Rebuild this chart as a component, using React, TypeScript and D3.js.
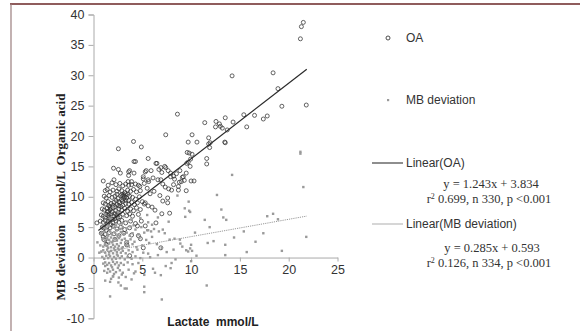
import React, { useRef, useEffect } from 'react';
import * as d3 from 'd3';

// [lactate, organic acid]
const oaPoints: [number, number][] = [
  [21.5, 38.7], [21.3, 38.0], [21.2, 36.0], [14.2, 29.9], [18.4, 30.4], [18.9, 27.8], [19.3, 24.9], [21.8, 25.1],
  [15.4, 23.5], [16.5, 23.4], [17.8, 23.3], [17.4, 22.8], [13.5, 23.0], [8.6, 23.6], [7.4, 20.2], [10.1, 20.2],
  [9.7, 19.0], [10.6, 19.0], [11.4, 22.2], [11.8, 19.7], [11.8, 18.7], [11.6, 16.3], [11.6, 15.4], [12.5, 21.5],
  [13.0, 21.6], [13.2, 21.3], [13.5, 18.9], [13.7, 21.0], [14.3, 22.3], [15.7, 21.5], [2.55, 17.9], [4.1, 19.1],
  [4.9, 18.2], [4.15, 15.8], [4.3, 15.8], [5.6, 16.3], [2.05, 14.7], [2.55, 14.5], [2.75, 13.9], [3.6, 14.1],
  [3.6, 13.5], [1.0, 12.6], [5.3, 14.1], [5.9, 14.3], [6.4, 15.5], [6.7, 14.5], [7.0, 14.0], [7.4, 14.8],
  [7.65, 14.3], [7.9, 13.9], [8.2, 13.4], [8.5, 13.8], [8.85, 14.3], [9.5, 13.9], [9.7, 15.7], [9.95, 16.2],
  [9.8, 17.2], [10.1, 17.0], [9.9, 15.0], [10.0, 12.6], [10.3, 12.6], [9.5, 11.0], [8.7, 11.1], [8.7, 11.7],
  [9.0, 12.5], [8.0, 11.1], [7.7, 11.3], [7.35, 11.6], [7.1, 12.1], [6.6, 12.8], [6.1, 13.1], [5.65, 12.5],
  [5.1, 13.3], [4.75, 11.7], [7.6, 9.8], [7.6, 9.0], [7.1, 9.3], [7.8, 7.3], [7.0, 7.2], [6.3, 7.8],
  [6.0, 8.3], [5.6, 8.5], [5.3, 9.0], [6.4, 5.7], [4.9, 6.0], [5.3, 5.2], [0.35, 5.7], [3.4, 2.1],
  [3.7, 0.3], [4.6, 3.6], [5.1, 1.6], [6.9, 1.6], [6.5, 15.5], [6.9, 14.8], [7.3, 15.0], [5.4, 14.3],
  [3.7, 14.3], [4.15, 13.9], [5.1, 12.95], [5.6, 12.8], [5.2, 12.2], [3.55, 12.5], [3.9, 12.5], [6.9, 12.8],
  [7.9, 13.3], [8.3, 12.9], [8.8, 12.4], [9.3, 12.7], [5.8, 10.5], [6.2, 10.9], [5.5, 11.4], [6.8, 10.2],
  [8.2, 12.0], [9.1, 13.2], [12.55, 22.4], [12.9, 22.0], [9.6, 17.3], [9.55, 15.5], [11.95, 18.9], [11.9, 18.1],
  [13.45, 19.0], [9.2, 13.3],
  // dense cluster
  [1.9, 12.3], [2.3, 12.0], [2.7, 12.2], [3.0, 11.8], [3.3, 12.1], [3.6, 11.9], [3.9, 12.0], [4.3, 12.1],
  [4.6, 11.9], [2.1, 12.8], [1.5, 11.9],
  [1.2, 11.0], [1.4, 11.2], [1.7, 10.8], [2.0, 11.1], [2.4, 10.9], [2.6, 11.3], [2.9, 11.0], [3.2, 10.7],
  [3.5, 11.1], [3.8, 10.9], [4.1, 11.2], [4.4, 10.8], [4.8, 11.0], [3.1, 10.3], [3.0, 10.1], [3.2, 10.0],
  [1.1, 10.1], [1.3, 9.8], [1.6, 10.2], [1.9, 9.9], [2.2, 10.1], [2.5, 9.7], [2.8, 10.2], [3.4, 9.8],
  [3.7, 10.1], [4.0, 9.9], [4.3, 9.6], [4.7, 10.0], [2.9, 9.5], [3.3, 9.4],
  [1.0, 9.0], [1.2, 8.8], [1.5, 9.2], [1.8, 8.9], [2.1, 9.1], [2.4, 8.7], [2.7, 9.0], [3.0, 8.6],
  [3.3, 8.9], [3.6, 8.8], [3.9, 9.1], [4.2, 8.7], [4.5, 9.0], [5.0, 9.2], [5.2, 8.8], [2.2, 8.4], [1.6, 8.5],
  [0.9, 8.0], [1.1, 7.8], [1.4, 8.1], [1.7, 7.9], [2.0, 8.2], [2.3, 7.7], [2.6, 8.0], [2.9, 7.8],
  [3.2, 8.1], [3.5, 7.6], [3.8, 8.0], [4.1, 7.7], [4.4, 8.2], [4.8, 7.9], [1.9, 7.5], [2.5, 7.4],
  [0.8, 7.0], [1.0, 6.8], [1.3, 7.1], [1.5, 6.9], [1.8, 7.2], [2.1, 6.8], [2.4, 7.0], [2.7, 6.7],
  [3.0, 7.1], [3.4, 6.9], [3.7, 7.2], [4.0, 6.8], [4.6, 7.1], [1.6, 6.5], [2.2, 6.4],
  [0.7, 6.0], [1.0, 5.8], [1.2, 6.1], [1.5, 5.9], [1.7, 6.2], [2.0, 5.7], [2.3, 6.0], [2.6, 5.8],
  [2.9, 6.1], [3.3, 5.7], [3.8, 6.0], [4.3, 5.6], [1.4, 5.5], [1.8, 5.4],
  [0.9, 5.0], [1.1, 4.8], [1.4, 5.1], [1.7, 4.9], [2.0, 5.2], [2.4, 4.7], [2.8, 5.0], [3.2, 4.6],
  [3.7, 4.9], [4.5, 5.2], [1.3, 4.5],
  [0.8, 4.0], [1.2, 3.8], [1.6, 4.1], [2.1, 3.9], [2.6, 3.6], [3.1, 4.0], [3.9, 3.7], [1.0, 3.4],
  [1.1, 2.9], [1.5, 2.6], [2.2, 3.0], [3.4, 2.5], [1.3, 2.2], [4.8, 3.1],
  [2.9, 10.4], [3.1, 9.7], [2.6, 9.2], [2.0, 8.6], [1.7, 8.3], [2.3, 9.4], [1.4, 7.5], [2.8, 8.4],
  [3.6, 9.4], [1.9, 6.3], [1.2, 6.6], [2.5, 6.6], [1.5, 7.6], [3.3, 10.5], [3.5, 10.4],
  [2.2, 7.2], [1.8, 8.1], [2.6, 8.5], [3.0, 9.3], [2.4, 10.4], [1.6, 7.2],
];

// [lactate, MB deviation]
const mbPoints: [number, number][] = [
  [21.2, 17.4], [21.2, 17.1], [21.5, 11.6], [14.2, 13.6], [12.65, 10.3], [13.1, 7.9], [13.3, 6.6], [13.6, 6.2],
  [11.4, 6.2], [11.9, 5.0], [9.8, 7.7], [9.4, 6.7], [10.4, 4.1], [17.8, 6.8], [18.4, 7.2], [18.9, 6.3],
  [15.4, 4.3], [17.4, 4.0], [14.4, 3.3], [21.8, 3.4], [16.6, 2.6], [12.3, 2.7], [11.7, 2.4], [13.5, 2.1],
  [19.3, 1.1], [15.7, 0.9], [13.5, 0.4], [10.55, 0.3], [10.0, 2.1], [9.9, 1.5], [10.1, 1.1], [9.7, 1.0],
  [9.5, 1.2], [9.1, 1.8], [10.0, -0.6], [11.6, -4.6], [8.85, 2.95], [9.75, 9.2], [9.35, 8.1], [9.9, 7.5],
  [8.6, 10.2], [7.1, 4.6], [8.3, 3.1], [7.8, 2.95], [7.3, 4.0], [6.7, 4.3], [6.2, 4.7], [5.9, 4.3],
  [5.5, 4.5], [6.5, 2.2], [7.0, 1.6], [7.4, -1.4], [7.9, -1.75], [6.1, -1.85], [6.3, -2.5], [6.9, -2.9],
  [5.2, -2.85], [5.2, -4.8], [5.2, -5.7], [7.0, -6.9], [1.7, -6.4], [3.4, -5.1], [2.55, -4.1], [3.9, -3.6],
  [4.15, -2.6], [5.6, 0.65], [5.8, 0.05], [1.4, -2.5], [1.2, -1.4], [2.0, -3.1], [2.9, -2.8], [0.6, 0.8],
  [0.4, 2.5], [1.0, 3.2], [8.2, 1.3], [8.9, 2.3], [6.6, 0.4], [7.5, 0.9], [8.4, -0.3], [6.0, 3.4],
  [7.7, 5.9], [6.6, 6.6], [5.6, 5.8], [8.0, -0.9],
  // dense cluster
  [1.2, 7.1], [1.8, 6.4], [2.5, 7.5], [3.1, 6.8], [3.9, 6.2], [4.4, 7.8], [2.0, 8.3], [1.5, 5.9],
  [2.9, 5.6], [3.5, 5.9], [4.8, 6.5], [5.5, 7.0], [4.1, 5.3],
  [0.9, 5.1], [1.3, 4.8], [1.6, 5.2], [2.0, 4.9], [2.3, 5.3], [2.7, 4.7], [3.0, 5.0], [3.4, 4.8],
  [3.8, 5.1], [4.3, 4.6], [4.9, 5.0], [5.6, 4.5], [6.0, 5.4],
  [0.8, 4.0], [1.1, 4.2], [1.4, 3.9], [1.7, 4.3], [1.9, 3.8], [2.2, 4.1], [2.5, 3.7], [2.8, 4.2],
  [3.1, 3.9], [3.4, 4.1], [3.7, 3.6], [4.0, 4.0], [4.6, 3.8], [5.2, 4.1], [2.4, 4.5],
  [0.9, 3.0], [1.2, 2.8], [1.4, 3.2], [1.6, 2.9], [1.8, 3.3], [2.0, 2.7], [2.2, 3.1], [2.4, 2.8],
  [2.6, 3.2], [2.9, 2.9], [3.2, 3.1], [3.5, 2.7], [3.8, 3.0], [4.2, 2.6], [4.7, 3.2], [5.4, 2.9],
  [1.5, 3.6], [2.7, 3.5],
  [0.7, 2.0], [1.0, 1.8], [1.2, 2.2], [1.4, 1.9], [1.6, 2.3], [1.8, 1.7], [2.0, 2.1], [2.2, 1.8],
  [2.4, 2.2], [2.6, 1.9], [2.8, 2.4], [3.0, 1.7], [3.3, 2.1], [3.6, 1.9], [4.0, 2.2], [4.4, 1.7],
  [5.0, 2.0], [5.7, 2.4], [1.9, 2.5], [2.5, 1.5],
  [0.8, 1.0], [1.0, 1.2], [1.2, 0.8], [1.4, 1.3], [1.6, 0.9], [1.8, 1.1], [2.0, 0.7], [2.2, 1.2],
  [2.4, 0.9], [2.6, 1.3], [2.8, 0.8], [3.0, 1.1], [3.3, 0.7], [3.6, 1.2], [4.0, 0.9], [4.5, 1.3],
  [5.1, 0.8], [1.5, 1.6], [2.1, 1.5], [2.9, 1.5],
  [0.9, 0.1], [1.1, -0.2], [1.3, 0.3], [1.5, -0.1], [1.7, 0.2], [1.9, -0.3], [2.1, 0.1], [2.3, -0.2],
  [2.5, 0.3], [2.7, -0.1], [2.9, 0.2], [3.2, -0.3], [3.5, 0.1], [3.9, -0.2], [4.3, 0.2], [4.8, -0.1],
  [1.6, 0.5], [2.4, 0.5],
  [1.0, -1.0], [1.2, -0.8], [1.4, -1.2], [1.6, -0.9], [1.8, -1.3], [2.0, -0.7], [2.2, -1.1], [2.4, -0.8],
  [2.6, -1.3], [2.8, -0.9], [3.1, -1.2], [3.5, -0.8], [4.0, -1.1], [4.6, -0.9], [1.9, -1.6], [2.5, -1.7],
  [1.1, -2.2], [1.5, -1.9], [1.7, -2.3], [2.0, -2.0], [2.3, -2.4], [2.7, -2.1], [3.0, -2.5], [3.6, -2.0],
  [4.3, -2.3], [2.1, -2.7],
  [2.0, -3.1], [1.8, -3.5], [2.6, -3.3], [3.3, -3.2], [1.7, -4.0], [3.2, -5.1], [1.2, -3.8], [2.8, -4.6],
];

const xTicks = [0, 5, 10, 15, 20, 25];
const yTicks = [-10, -5, 0, 5, 10, 15, 20, 25, 30, 35, 40];

// fitted lines as printed in the legend
const oaFit = { slope: 1.243, intercept: 3.834, from: 0.5, to: 21.85 };
const mbFit = { slope: 0.285, intercept: 0.593, from: 0.5, to: 21.85 };

const App = () => {
  const svgRef = useRef<SVGSVGElement>(null);

  useEffect(() => {
    if (!svgRef.current) return;
    const width = 580;
    const height = 331;
    const svg = d3.select(svgRef.current);
    svg.selectAll('*').remove();

    const sans = 'Liberation Sans, Arial, sans-serif';
    const serif = 'Liberation Serif, Times New Roman, serif';

    const x = d3.scaleLinear().domain([0, 25]).range([93.5, 337.5]);
    const y = d3.scaleLinear().domain([-10, 40]).range([318.3, 14.5]);

    svg.append('rect').attr('width', width).attr('height', height).attr('fill', 'white');

    // frame
    svg.append('line').attr('x1', 10).attr('x2', width).attr('y1', 4).attr('y2', 4)
      .attr('stroke', '#6a2626').attr('stroke-width', 1.5);
    svg.append('line').attr('x1', 11).attr('x2', 11).attr('y1', 4).attr('y2', height)
      .attr('stroke', '#9a7e7e').attr('stroke-width', 1.2);

    // y axis
    const yAxis = svg.append('g')
      .attr('transform', `translate(${x(0)},0)`)
      .call(d3.axisLeft(y).tickValues(yTicks).tickFormat(d => String(d)).tickSize(5).tickPadding(4));
    yAxis.select('.domain').attr('stroke', '#aaa');
    yAxis.selectAll('.tick line').attr('stroke', '#aaa');
    yAxis.selectAll('.tick text').attr('fill', '#333').attr('font-size', 12.5).attr('font-family', sans);

    // x axis at y = 0
    const xAxis = svg.append('g')
      .attr('transform', `translate(0,${y(0)})`)
      .call(d3.axisBottom(x).tickValues(xTicks).tickFormat(d => String(d)).tickSize(4).tickPadding(4).tickSizeOuter(0));
    xAxis.select('.domain').attr('stroke', '#aaa');
    xAxis.selectAll('.tick line').attr('stroke', '#aaa');
    xAxis.selectAll('.tick text').attr('fill', '#333').attr('font-size', 12.5).attr('font-family', sans);

    // OA circles
    svg.append('g').selectAll('circle')
      .data(oaPoints)
      .join('circle')
      .attr('cx', d => x(d[0]))
      .attr('cy', d => y(d[1]))
      .attr('r', 2)
      .attr('fill', 'none')
      .attr('stroke', '#333')
      .attr('stroke-width', 0.9)
      .attr('stroke-opacity', 0.85);

    // MB deviation squares
    svg.append('g').selectAll('rect')
      .data(mbPoints)
      .join('rect')
      .attr('x', d => x(d[0]) - 1.2)
      .attr('y', d => y(d[1]) - 1.2)
      .attr('width', 2.4)
      .attr('height', 2.4)
      .attr('fill', '#9a9a9a');

    // trend lines
    const fitLine = (f: typeof oaFit) => [
      [f.from, f.slope * f.from + f.intercept],
      [f.to, f.slope * f.to + f.intercept],
    ];
    const line = d3.line<number[]>().x(d => x(d[0])).y(d => y(d[1]));
    svg.append('path').attr('d', line(fitLine(oaFit))).attr('stroke', '#2a2a2a')
      .attr('stroke-width', 1.2).attr('fill', 'none');
    svg.append('path').attr('d', line(fitLine(mbFit))).attr('stroke', '#999')
      .attr('stroke-width', 1).attr('stroke-dasharray', '1.2,1').attr('fill', 'none');

    // axis titles
    svg.append('text')
      .attr('transform', 'translate(65,197) rotate(-90)')
      .attr('text-anchor', 'middle')
      .attr('font-family', serif)
      .attr('font-weight', 'bold')
      .attr('font-size', 13)
      .attr('fill', '#222')
      .style('white-space', 'pre')
      .text('MB deviation   mmol/L  Organic acid');

    svg.append('text')
      .attr('x', 213).attr('y', 326)
      .attr('text-anchor', 'middle')
      .attr('font-family', sans)
      .attr('font-weight', 'bold')
      .attr('font-size', 12)
      .attr('fill', '#222')
      .style('white-space', 'pre')
      .text('Lactate  mmol/L');

    // legend
    const lg = svg.append('g');
    lg.append('circle').attr('cx', 388).attr('cy', 38).attr('r', 2)
      .attr('fill', 'none').attr('stroke', '#3a3a3a').attr('stroke-width', 0.9);
    lg.append('text').attr('x', 406).attr('y', 42).attr('font-family', sans)
      .attr('font-size', 12).attr('fill', '#333').text('OA');
    lg.append('rect').attr('x', 387).attr('y', 99).attr('width', 2.2).attr('height', 2.2).attr('fill', '#9a9a9a');
    lg.append('text').attr('x', 406).attr('y', 104).attr('font-family', sans)
      .attr('font-size', 12).attr('fill', '#333').text('MB deviation');

    lg.append('line').attr('x1', 372).attr('x2', 403).attr('y1', 163).attr('y2', 163)
      .attr('stroke', '#444').attr('stroke-width', 1.2);
    lg.append('text').attr('x', 406).attr('y', 167).attr('font-family', sans)
      .attr('font-size', 12).attr('fill', '#333').text('Linear(OA)');
    lg.append('line').attr('x1', 372).attr('x2', 403).attr('y1', 224).attr('y2', 224)
      .attr('stroke', '#bbb').attr('stroke-width', 1.2);
    lg.append('text').attr('x', 406).attr('y', 228).attr('font-family', sans)
      .attr('font-size', 12).attr('fill', '#333').text('Linear(MB deviation)');

    const eq = (cx: number, yy: number, s: string) => {
      lg.append('text').attr('x', cx).attr('y', yy).attr('text-anchor', 'middle')
        .attr('font-family', serif).attr('font-size', 12.5).attr('fill', '#333').text(s);
    };
    const r2 = (cx: number, yy: number, rest: string) => {
      const t = lg.append('text').attr('x', cx).attr('y', yy).attr('text-anchor', 'middle')
        .attr('font-family', serif).attr('font-size', 12.5).attr('fill', '#333');
      t.append('tspan').text('r');
      t.append('tspan').attr('dy', -4).attr('font-size', 8).text('2');
      t.append('tspan').attr('dy', 4).text(rest);
    };
    eq(491, 188, 'y = 1.243x + 3.834');
    r2(489, 203, ' 0.699, n 330, p <0.001');
    eq(492, 252, 'y = 0.285x + 0.593');
    r2(489, 267, ' 0.126, n 334, p <0.001');
  }, []);

  return (
    <svg ref={svgRef} width={580} height={331}
      style={{ position: 'absolute', left: 0, top: 0, display: 'block' }} />
  );
};

export default App;
